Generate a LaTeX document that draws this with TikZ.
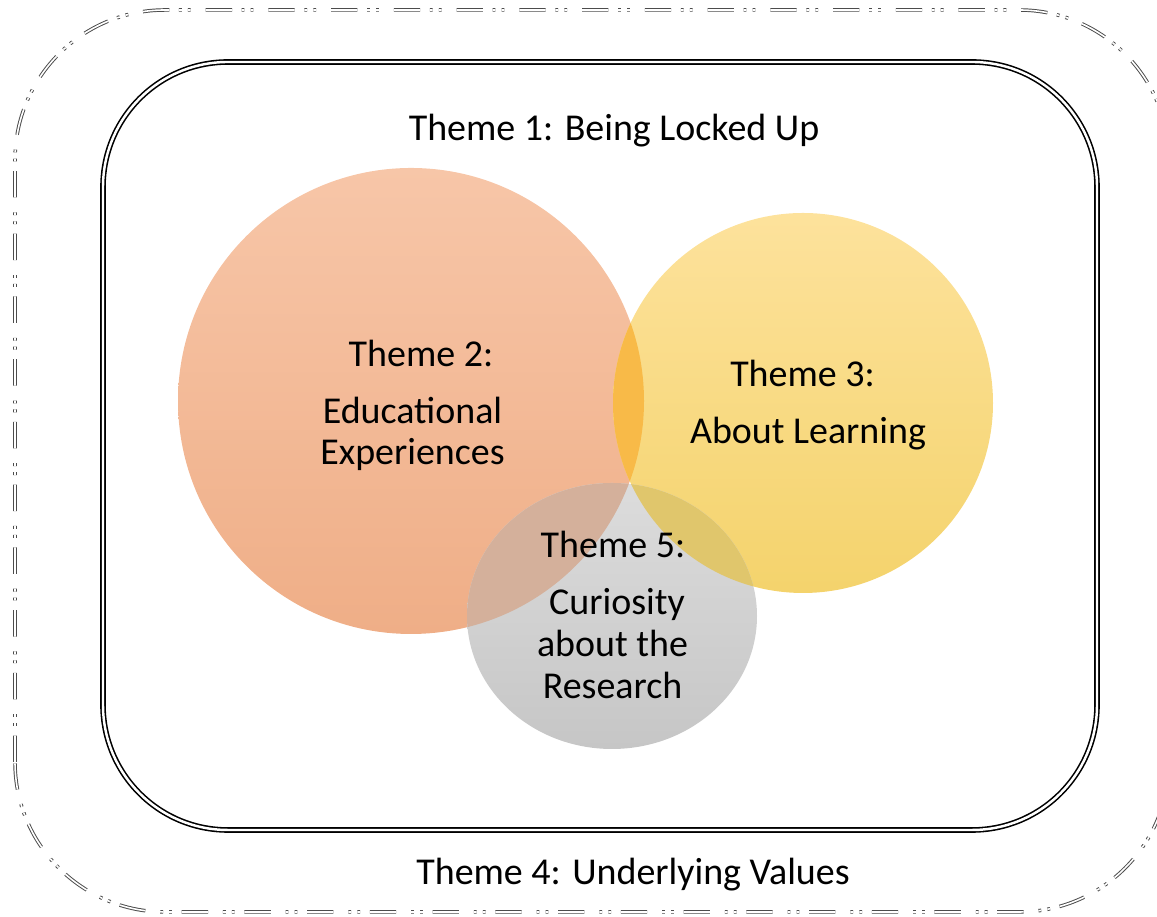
\documentclass[tikz,border=0pt]{standalone}
\usepackage{fontspec}
\setmainfont{Carlito}
\usepackage{tikz}
\usepackage{xcolor}

\definecolor{edutop}{HTML}{F7C6A8}
\definecolor{edubot}{HTML}{EFAE87}
\definecolor{learntop}{HTML}{FDE29C}
\definecolor{learnbot}{HTML}{F4D36C}
\definecolor{curiotop}{HTML}{DCDCDC}
\definecolor{curiobot}{HTML}{C6C6C6}
\definecolor{lensEL}{HTML}{F8BA48}
\definecolor{lensEC}{HTML}{D4B09B}
\definecolor{lensLC}{HTML}{E0C66C}

% the three theme shapes
\newcommand{\educircle}{(8.22,10.32) circle (4.66)}
\newcommand{\learncircle}{(16.06,10.28) circle (3.80)}
\newcommand{\curioval}{(12.24,6.02) ellipse (2.90 and 2.66)}

\tikzset{%
	theme text/.style={
		font=\fontsize{21.6}{26}\selectfont,
		anchor=base,
		inner sep=0pt
	},
	inner frame/.style={
		draw=black,
		double=white,
		line width=0.9pt,
		double distance=1.4pt,
		rounded corners=2.5cm
	},
	outer frame/.style={
		draw=black!70,
		double=white,
		line width=0.55pt,
		double distance=0.9pt,
		rounded corners=3cm,
		dash pattern=on 15pt off 5.5pt on 1.6pt off 3.5pt on 1.6pt off 8.5pt
	},
}

\begin{document}
\begin{tikzpicture}
			\clip (0,0) rectangle (23.14,18.34);
			
			\draw[outer frame] (0.30,0.10) rectangle (23.38,18.14);
			\draw[inner frame] (2.06,1.74) rectangle (21.94,17.10);
			
			\shade[top color=edutop, bottom color=edubot] \educircle;
			\shade[top color=learntop, bottom color=learnbot] \learncircle;
			\begin{scope}
				\clip \educircle;
				\fill[lensEL] \learncircle;
			\end{scope}
			\shade[top color=curiotop, bottom color=curiobot] \curioval;
			\begin{scope}
				\clip \curioval;
				\fill[lensEC] \educircle;
				\fill[lensLC] \learncircle;
			\end{scope}
			
			\node[theme text] (t1) at (12.28,15.53) {Theme 1: Being Locked Up};
			\node[theme text] (t4) at (12.66,0.64) {Theme 4: Underlying Values};
			
			\node[theme text] (t2) at (8.42,11.01) {Theme 2:};
			\node[theme text] (edu) at (8.25,9.86) {Educational};
			\node[theme text] (exp) at (8.25,9.04) {Experiences};
			
			\node[theme text] (t3) at (16.05,10.60) {Theme 3:};
			\node[theme text] (learn) at (16.16,9.46) {About Learning};
			
			\node[theme text] (t5) at (12.26,7.19) {Theme 5:};
			\node[theme text] (cur) at (12.34,6.05) {Curiosity};
			\node[theme text] (about) at (12.25,5.21) {about the};
			\node[theme text] (res) at (12.25,4.37) {Research};
			
		\end{tikzpicture}
\end{document}
